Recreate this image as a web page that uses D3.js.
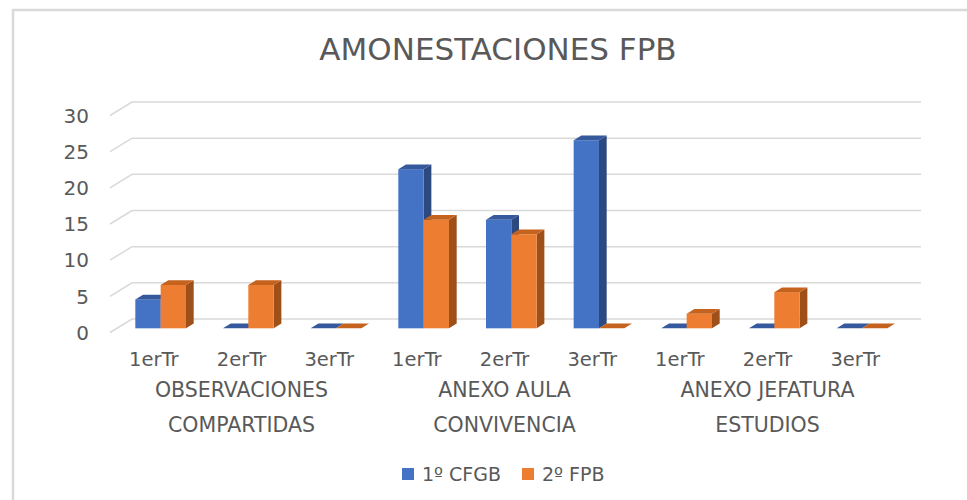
<!DOCTYPE html>
<html>
<head>
<meta charset="utf-8">
<script src="https://cdn.jsdelivr.net/npm/d3@7"></script>
<style>
  html, body { margin: 0; padding: 0; background: #fff; }
  svg { display: block; font-family: "DejaVu Sans", sans-serif; }
</style>
</head>
<body>
<svg id="chart" width="967" height="500"></svg>
<script>
// datos del gráfico
const terms = ["1erTr", "2erTr", "3erTr"];
const groupLines = [["OBSERVACIONES", "COMPARTIDAS"], ["ANEXO AULA", "CONVIVENCIA"], ["ANEXO JEFATURA", "ESTUDIOS"]];
const seriesNames = ["1º CFGB", "2º FPB"];
const cfgb = [4, 0, 0, 22, 15, 26, 0, 0, 0];
const fpb = [6, 6, 0, 15, 13, 0, 2, 5, 0];
const yTicks = [0, 5, 10, 15, 20, 25, 30];

const colors = [
    { front: "#4472c4", top: "#35599c", side: "#2c4a80" },
    { front: "#ed7d31", top: "#c5621e", side: "#9f4f18" }
];

const svg = d3.select("#chart");
const grey = "#d9d9d9";
const txt = "#595959";

// borde del área del gráfico
svg.append("rect").attr("x", 13).attr("y", 10).attr("width", 1000).attr("height", 600)
    .attr("fill", "none").attr("stroke", grey).attr("stroke-width", 2.5);

// categorías (9 = 3 grupos x 3 trimestres)
const cats = d3.range(cfgb.length);
const x = d3.scaleBand().domain(cats).range([110, 899]);
const inner = d3.scaleBand().domain([0, 1]).range([0, x.bandwidth()]).paddingOuter(0.73);
const y = d3.scaleLinear().domain([0, 30]).range([332.5, 115.5]);

// profundidad 3D
const depth = { dx: 22, dy: -13.5 };
const barFront = 0.31, barBack = 0.66;

// rejilla: pared trasera + diagonal del suelo
const grid = svg.append("g").attr("stroke", grey).attr("stroke-width", 1.5).attr("fill", "none");
yTicks.forEach(t => {
    const yf = y(t);
    grid.append("path").attr("d", `M${x.range()[0]},${yf}L${x.range()[0] + depth.dx},${yf + depth.dy}H${x.range()[1] + depth.dx}`);
});

// etiquetas eje Y
svg.append("g").selectAll("text").data(yTicks).join("text")
    .attr("x", 89).attr("y", d => y(d)).attr("dy", "0.36em")
    .attr("text-anchor", "end").attr("fill", txt).attr("font-size", 20)
    .text(d => d);

// barras 3D
const bars = svg.append("g");
cats.forEach(i => {
    [cfgb[i], fpb[i]].forEach((v, s) => {
        const ox = depth.dx * barFront, oy = depth.dy * barFront;
        const bx = depth.dx * (barBack - barFront), by = depth.dy * (barBack - barFront);
        const x0 = x(i) + inner(s) + ox;
        const w = inner.bandwidth();
        const yb = y(0) + oy;
        const yt = y(v) + oy;
        const c = colors[s];
        if (v > 0) {
            bars.append("path").attr("fill", c.side)
                .attr("d", `M${x0 + w},${yb}L${x0 + w + bx},${yb + by}V${yt + by}L${x0 + w},${yt}Z`);
            bars.append("rect").attr("fill", c.front)
                .attr("x", x0).attr("y", yt).attr("width", w).attr("height", yb - yt);
        }
        bars.append("path").attr("fill", c.top)
            .attr("d", `M${x0},${yt}L${x0 + bx},${yt + by}H${x0 + w + bx}L${x0 + w},${yt}Z`);
    });
});

// etiquetas eje X
svg.append("g").selectAll("text").data(cats).join("text")
    .attr("x", d => x(d) + x.bandwidth() / 2).attr("y", 366)
    .attr("text-anchor", "middle").attr("fill", txt).attr("font-size", 19.5)
    .text(d => terms[d % terms.length]);

const groupG = svg.append("g");
groupLines.forEach((lines, g) => {
    const cx = x(g * 3 + 1) + x.bandwidth() / 2;
    lines.forEach((l, k) => {
        groupG.append("text").attr("x", cx).attr("y", 397 + k * 35)
            .attr("text-anchor", "middle").attr("fill", txt).attr("font-size", 20.5)
            .text(l);
    });
});

// título
svg.append("text").attr("x", 498).attr("y", 60).attr("text-anchor", "middle")
    .attr("fill", txt).attr("font-size", 31).text("AMONESTACIONES FPB");

// leyenda
const legendX = [402, 522];
const legend = svg.append("g");
seriesNames.forEach((n, s) => {
    legend.append("rect").attr("x", legendX[s]).attr("y", 468).attr("width", 12).attr("height", 12).attr("fill", colors[s].front);
    legend.append("text").attr("x", legendX[s] + 20).attr("y", 481).attr("fill", txt).attr("font-size", 19).text(n);
});
</script>
</body>
</html>
